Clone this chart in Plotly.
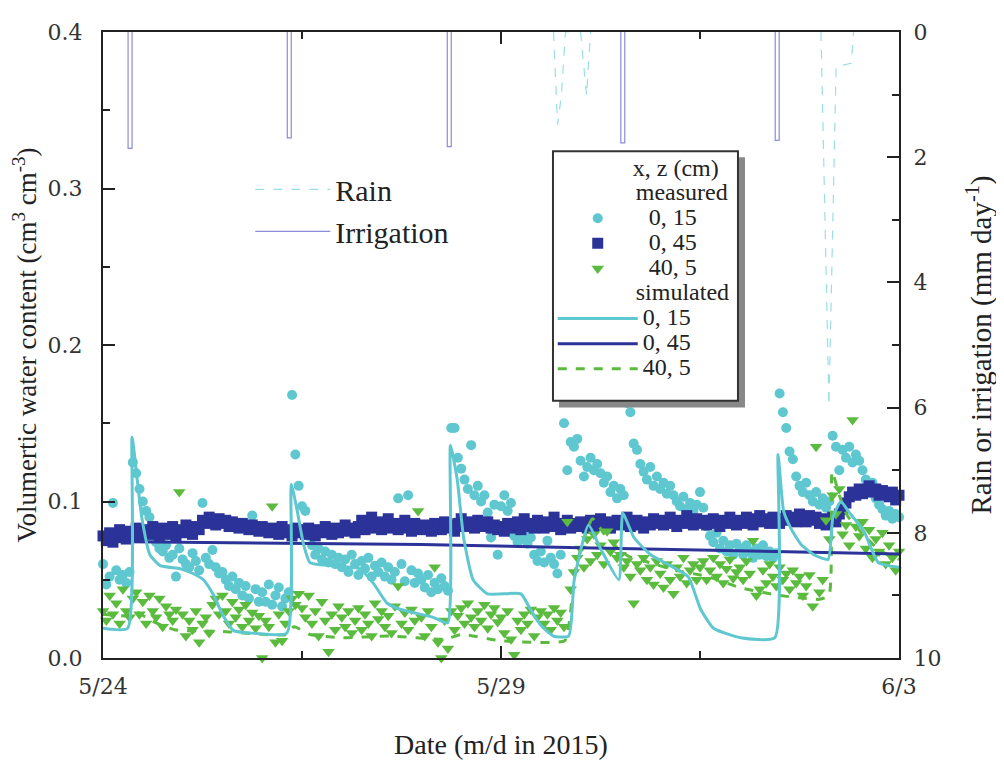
import plotly.graph_objects as go

# ---------------- data ----------------
# measurement times: hourly, in days since 5/24 00:00
meas_days = [h / 24 for h in range(241)]

meas_0_15 = [
    0.060, 0.047, 0.052, 0.099, 0.056, 0.050, 0.053, 0.048, 0.055, 0.125, 0.118, 0.108,
    0.100, 0.094, 0.090, 0.077, 0.074, 0.070, 0.068, 0.072, 0.064, 0.066, 0.052, 0.070,
    0.063, 0.060, 0.058, 0.067, 0.062, 0.056, 0.099, 0.064, 0.060, 0.069, 0.058, 0.054,
    0.055, 0.050, 0.046, 0.052, 0.044, 0.048, 0.040, 0.046, 0.038, 0.091, 0.044, 0.036,
    0.042, 0.036, 0.047, 0.034, 0.040, 0.045, 0.033, 0.038, 0.042, 0.168, 0.130, 0.110,
    0.097, 0.094, 0.078, 0.072, 0.066, 0.070, 0.063, 0.068, 0.061, 0.066, 0.060, 0.064,
    0.058, 0.063, 0.055, 0.066, 0.060, 0.053, 0.062, 0.057, 0.064, 0.052, 0.059, 0.055,
    0.061, 0.052, 0.058, 0.050, 0.055, 0.102, 0.060, 0.049, 0.104, 0.056, 0.048, 0.054,
    0.050, 0.045, 0.053, 0.042, 0.048, 0.044, 0.051, 0.046, 0.043, 0.147, 0.147, 0.128,
    0.121, 0.114, 0.108, 0.136, 0.104, 0.110, 0.100, 0.104, 0.093, 0.077, 0.098, 0.066,
    0.097, 0.104, 0.094, 0.099, 0.078, 0.074, 0.076, 0.079, 0.073, 0.077, 0.066, 0.062,
    0.068, 0.061, 0.075, 0.064, 0.060, 0.054, 0.066, 0.150, 0.120, 0.138, 0.135, 0.140,
    0.126, 0.116, 0.122, 0.128, 0.120, 0.124, 0.118, 0.112, 0.116, 0.106, 0.110, 0.102,
    0.108, 0.104, 0.163, 0.157, 0.137, 0.133, 0.124, 0.119, 0.114, 0.122, 0.110, 0.116,
    0.108, 0.112, 0.105, 0.110, 0.104, 0.100, 0.097, 0.103, 0.095, 0.099, 0.094, 0.098,
    0.106, 0.096, 0.084, 0.078, 0.074, 0.080, 0.070, 0.075, 0.068, 0.072, 0.066, 0.073,
    0.070, 0.066, 0.072, 0.068, 0.064, 0.070, 0.066, 0.072, 0.065, 0.068, 0.064, 0.067,
    0.169, 0.157, 0.147, 0.132, 0.127, 0.116, 0.110, 0.106, 0.112, 0.104, 0.100, 0.106,
    0.098, 0.102, 0.096, 0.100, 0.142, 0.135, 0.120, 0.133, 0.128, 0.135, 0.125, 0.130,
    0.126, 0.120, 0.114, 0.108, 0.112, 0.102, 0.098, 0.095, 0.091, 0.094, 0.089, 0.092, 0.090]

meas_0_45 = [
    0.078, 0.075, 0.080, 0.074, 0.077, 0.082, 0.079, 0.076, 0.081, 0.078, 0.083, 0.080,
    0.077, 0.082, 0.079, 0.084, 0.080, 0.078, 0.083, 0.081, 0.079, 0.084, 0.077, 0.082,
    0.080, 0.085, 0.081, 0.079, 0.084, 0.082, 0.088, 0.086, 0.090, 0.087, 0.085, 0.089,
    0.086, 0.088, 0.084, 0.087, 0.085, 0.083, 0.086, 0.084, 0.082, 0.085, 0.083, 0.081,
    0.084, 0.082, 0.080, 0.083, 0.081, 0.079, 0.084, 0.080, 0.082, 0.078, 0.083, 0.080,
    0.082, 0.079, 0.083, 0.081, 0.078, 0.082, 0.080, 0.084, 0.081, 0.079, 0.083, 0.080,
    0.082, 0.085, 0.081, 0.083, 0.080, 0.084, 0.088, 0.082, 0.086, 0.090, 0.083, 0.087,
    0.082, 0.085, 0.089, 0.083, 0.086, 0.082, 0.085, 0.088, 0.083, 0.081, 0.086, 0.084,
    0.082, 0.085, 0.083, 0.081, 0.086, 0.084, 0.082, 0.087, 0.085, 0.083, 0.081, 0.086,
    0.089, 0.084, 0.087, 0.085, 0.083, 0.088, 0.086, 0.084, 0.087, 0.083, 0.085, 0.082,
    0.084, 0.081, 0.086, 0.083, 0.085, 0.087, 0.082, 0.089, 0.084, 0.086, 0.083, 0.088,
    0.085, 0.083, 0.087, 0.084, 0.090, 0.086, 0.082, 0.085, 0.088, 0.083, 0.086, 0.084,
    0.087, 0.085, 0.083, 0.088, 0.084, 0.086, 0.089, 0.085, 0.087, 0.083, 0.086, 0.088,
    0.085, 0.087, 0.090, 0.084, 0.086, 0.088, 0.085, 0.083, 0.087, 0.085, 0.089, 0.086,
    0.088, 0.085, 0.087, 0.090, 0.086, 0.084, 0.088, 0.086, 0.091, 0.087, 0.085, 0.089,
    0.086, 0.088, 0.085, 0.087, 0.089, 0.086, 0.084, 0.088, 0.086, 0.090, 0.087, 0.085,
    0.088, 0.086, 0.090, 0.087, 0.085, 0.089, 0.091, 0.087, 0.089, 0.086, 0.090, 0.088,
    0.086, 0.089, 0.091, 0.088, 0.090, 0.087, 0.092, 0.089, 0.087, 0.091, 0.088, 0.090,
    0.086, 0.089, 0.085, 0.088, 0.090, 0.087, 0.092, 0.095, 0.099, 0.103, 0.106, 0.104,
    0.108, 0.105, 0.107, 0.110, 0.106, 0.108, 0.104, 0.107, 0.105, 0.103, 0.106, 0.101, 0.104]

meas_40_5 = [
    0.030, 0.024, 0.040, 0.028, 0.035, 0.022, 0.044, 0.030, 0.026, 0.038, 0.042, 0.028,
    0.036, 0.022, 0.040, 0.030, 0.026, 0.038, 0.020, 0.033, 0.028, 0.024, 0.031, 0.106,
    0.028, 0.014, 0.024, 0.018, 0.030, 0.010, 0.022, 0.026, 0.016, 0.034, 0.038, 0.028,
    0.040, 0.030, 0.022, 0.036, 0.026, 0.031, 0.020, 0.034, 0.024, 0.029, 0.019, 0.027,
    0.000, 0.024, 0.020, 0.097, 0.010, 0.028, 0.011, 0.022, 0.030, 0.038, 0.034, 0.041,
    0.032, 0.026, 0.040, 0.022, 0.030, 0.014, 0.036, 0.024, 0.004, 0.028, 0.018, 0.033,
    0.026, 0.020, 0.030, 0.016, 0.024, 0.032, 0.018, 0.028, 0.022, 0.014, 0.035, 0.025,
    0.030, 0.020, 0.027, 0.016, 0.033, 0.046, 0.022, 0.029, 0.018, 0.031, 0.024, 0.094,
    0.026, 0.014, 0.030, 0.020, 0.058, 0.010, 0.000, 0.024, 0.006, 0.030, 0.018, 0.027,
    0.032, 0.022, 0.035, 0.026, 0.020, 0.030, 0.024, 0.034, 0.019, 0.028, 0.032, 0.023,
    0.026, 0.016, 0.030, 0.012, 0.002, 0.024, 0.018, 0.028, 0.022, 0.031, 0.014, 0.026,
    0.030, 0.022, 0.028, 0.018, 0.032, 0.024, 0.029, 0.020, 0.087, 0.044, 0.055, 0.064,
    0.070, 0.058, 0.076, 0.062, 0.079, 0.066, 0.072, 0.060, 0.081, 0.068, 0.074, 0.064,
    0.066, 0.058, 0.062, 0.052, 0.035, 0.060, 0.056, 0.064, 0.050, 0.058, 0.047, 0.062,
    0.054, 0.045, 0.060, 0.050, 0.041, 0.058, 0.052, 0.064, 0.048, 0.056, 0.060, 0.050,
    0.058, 0.062, 0.050, 0.056, 0.064, 0.052, 0.060, 0.048, 0.057, 0.063, 0.051, 0.055,
    0.058, 0.050, 0.062, 0.054, 0.075, 0.040, 0.044, 0.056, 0.048, 0.060, 0.052, 0.046,
    0.058, 0.050, 0.054, 0.044, 0.056, 0.048, 0.052, 0.040, 0.046, 0.053, 0.033, 0.135,
    0.042, 0.050, 0.088, 0.076, 0.104, 0.092, 0.108, 0.079, 0.085, 0.072, 0.152, 0.084,
    0.078, 0.087, 0.070, 0.082, 0.064, 0.076, 0.068, 0.080, 0.060, 0.072, 0.064, 0.056, 0.068]

# simulated 0,15
sim_0_15_days = [0.00, 0.31, 0.365, 0.43, 0.49, 0.59, 0.72, 0.97, 1.13, 1.26, 1.38, 1.51, 1.64, 1.85,
                 2.31, 2.365, 2.44, 2.52, 2.60, 2.89, 3.23, 3.40, 3.57, 3.74, 4.15, 4.33, 4.365,
                 4.45, 4.53, 4.65, 4.83, 5.25, 5.37, 5.50, 5.66, 5.85, 5.92, 6.10, 6.25, 6.48, 6.53,
                 6.67, 6.88, 7.09, 7.35, 7.51, 7.67, 8.01, 8.44, 8.48, 8.55, 8.64, 8.77, 8.93, 9.11,
                 9.17, 9.27, 9.36, 9.56, 9.74, 10.0]
sim_0_15 = [0.019, 0.019, 0.141, 0.114, 0.089, 0.066, 0.059, 0.057, 0.054, 0.050, 0.041, 0.027, 0.0175,
            0.016, 0.016, 0.111, 0.094, 0.0725, 0.061, 0.059, 0.057, 0.0475, 0.035, 0.031, 0.026,
            0.0225, 0.136, 0.114, 0.077, 0.050, 0.041, 0.041, 0.031, 0.021, 0.014, 0.014, 0.050,
            0.085, 0.070, 0.050, 0.0925, 0.077, 0.066, 0.060, 0.052, 0.031, 0.019, 0.013, 0.013,
            0.130, 0.094, 0.083, 0.0725, 0.066, 0.063, 0.090, 0.100, 0.094, 0.081, 0.061, 0.058]

# simulated 0,45
sim_0_45_days = [0.0, 2.0, 4.0, 6.0, 8.0, 10.0]
sim_0_45 = [0.0745, 0.0735, 0.0725, 0.0705, 0.0685, 0.0665]

# simulated 40,5
sim_40_5_days = [0.0, 0.3, 0.4, 0.6, 0.9, 1.5, 2.3, 2.4, 2.6, 3.0, 3.6, 4.3, 4.5, 5.0, 5.8, 5.85,
                 5.95, 6.15, 6.3, 6.45, 6.6, 6.8, 7.2, 7.6, 8.0, 8.5, 9.0, 9.12, 9.16, 9.25, 9.35,
                 9.55, 9.75, 10.0]
sim_40_5 = [0.028, 0.027, 0.030, 0.024, 0.018, 0.017, 0.015, 0.020, 0.015, 0.013, 0.014, 0.012, 0.015,
            0.011, 0.011, 0.020, 0.060, 0.089, 0.079, 0.071, 0.065, 0.062, 0.056, 0.052, 0.045,
            0.040, 0.0375, 0.040, 0.119, 0.104, 0.091, 0.079, 0.069, 0.063]

# rain (mm/day), events separated by None
rain_days = [5.66, 5.71, 5.76, 5.81, 5.91, None, 6.00, 6.075, 6.125, None,
             9.02, 9.12, 9.21, 9.40, 9.43]
rain_mm = [0.0, 1.48, 1.0, 0.0, 0.0, None, 0.0, 1.02, 0.0, None,
           0.0, 5.97, 0.55, 0.50, 0.0]

# irrigation (mm/day)
irr_days = [0.34, 2.34, 4.35, 6.53, 8.47]
irr_mm = [1.86, 1.69, 1.83, 1.77, 1.73]
irr_halfwidth = 0.025

tick_vals = [0, 5, 10]
tick_text = ["5/24", "5/29", "6/3"]

# ---------------- styles ----------------
C_CYAN = "#5ec7cf"
C_BLUE = "#2b3399"
C_GREEN = "#5bbb3e"
C_RAIN = "#9adfe3"
C_IRR = "#8c8cd8"
SERIF = "Liberation Serif, Times New Roman, Times, serif"
NUMF = "DejaVu Serif, serif"
NB = "\u00a0"


def lg(txt, indent=0):
    """legend text rendered larger than the legend's row height font"""
    return '<span style="font-size:24px">' + NB * indent + txt + '</span>'


fig = go.Figure()

ix, iy = [], []
for d, v in zip(irr_days, irr_mm):
    ix += [d - irr_halfwidth, d - irr_halfwidth, d + irr_halfwidth, d + irr_halfwidth, None]
    iy += [0, v, v, 0, None]

fig.add_trace(go.Scatter(x=rain_days, y=rain_mm, yaxis="y2", mode="lines", name="Rain",
                         line=dict(color=C_RAIN, width=1.2, dash="dash"), legend="legend2"))
fig.add_trace(go.Scatter(x=ix, y=iy, yaxis="y2", mode="lines", name="Irrigation",
                         line=dict(color=C_IRR, width=1.2), legend="legend2"))

# measured
fig.add_trace(go.Scatter(x=meas_days, y=meas_0_15, mode="markers", name=lg("0, 15", 1),
                         marker=dict(symbol="circle", size=10, color=C_CYAN),
                         legendgroup="m", legendgrouptitle=dict(text=lg("measured", 13)),
                         cliponaxis=False, legendrank=1))
fig.add_trace(go.Scatter(x=meas_days, y=meas_0_45, mode="markers", name=lg("0, 45", 1),
                         marker=dict(symbol="square", size=11, color=C_BLUE),
                         legendgroup="m", cliponaxis=False, legendrank=2))
fig.add_trace(go.Scatter(x=meas_days, y=meas_40_5, mode="markers", name=lg("40, 5", 1),
                         marker=dict(symbol="triangle-down", size=11, color=C_GREEN),
                         legendgroup="m", cliponaxis=False, legendrank=3))
# simulated
fig.add_trace(go.Scatter(x=sim_40_5_days, y=sim_40_5, mode="lines", name=lg("40, 5"),
                         line=dict(color=C_GREEN, width=3, dash="dash", shape="spline", smoothing=0.5),
                         legendgroup="s", legendrank=6))
fig.add_trace(go.Scatter(x=sim_0_45_days, y=sim_0_45, mode="lines", name=lg("0, 45"),
                         line=dict(color=C_BLUE, width=3),
                         legendgroup="s", legendrank=5))
fig.add_trace(go.Scatter(x=sim_0_15_days, y=sim_0_15, mode="lines", name=lg("0, 15"),
                         line=dict(color=C_CYAN, width=3, shape="spline", smoothing=0.5),
                         legendgroup="s", legendrank=4,
                         legendgrouptitle=dict(text=lg("simulated", 13))))

axis_common = dict(showline=True, linecolor="#222", linewidth=2, ticks="inside",
                   tickcolor="#222", tickwidth=2, showgrid=False, zeroline=False)
minor_common = dict(ticks="inside", tickcolor="#222", tickwidth=2, ticklen=7)

fig.update_layout(
    width=996, height=759,
    margin=dict(l=95, r=105, t=15, b=104),
    paper_bgcolor="white", plot_bgcolor="white",
    xaxis=dict(range=[0, 10], tickvals=tick_vals, ticktext=tick_text, ticklen=12,
               mirror="ticks", minor=dict(dtick=2.5, tick0=0, **minor_common),
               tickfont=dict(family=NUMF, size=22, color="#333"), ticklabelstandoff=8,
               title=dict(text="Date (m/d in 2015)", font=dict(family=SERIF, size=28, color="#222"),
                          standoff=36),
               **axis_common),
    yaxis=dict(range=[0, 0.4], dtick=0.1, tickformat=".1f", ticklen=12,
               minor=dict(dtick=0.05, **minor_common),
               tickfont=dict(family=NUMF, size=22, color="#333"), ticklabelstandoff=14,
               title=dict(text="Volumertic water content (cm<sup>3</sup> cm<sup>-3</sup>)",
                          font=dict(family=SERIF, size=27, color="#222"), standoff=8),
               **axis_common),
    yaxis2=dict(overlaying="y", side="right", range=[10, 0], dtick=2, ticklen=12,
                minor=dict(dtick=1, **minor_common),
                tickfont=dict(family=NUMF, size=22, color="#333"), ticklabelstandoff=8,
                title=dict(text="Rain or irrigation (mm day<sup>-1</sup>)",
                           font=dict(family=SERIF, size=29, color="#222"), standoff=30),
                **axis_common),
    legend=dict(x=0.565, y=0.806, xanchor="left", yanchor="top",
                bgcolor="rgba(0,0,0,0)", borderwidth=0,
                font=dict(family=SERIF, size=17, color="#222"),
                title=dict(text=lg("x, z (cm)", 13), font=dict(family=SERIF, size=17, color="#222")),
                tracegroupgap=0, itemwidth=80,
                grouptitlefont=dict(family=SERIF, size=17, color="#222")),
    legend2=dict(x=0.185, y=0.79, xanchor="left", yanchor="top",
                 bgcolor="rgba(0,0,0,0)", borderwidth=0, itemwidth=75,
                 font=dict(family=SERIF, size=30, color="#222"), tracegroupgap=2),
    showlegend=True,
)

# legend frame with drop shadow
fig.add_shape(type="rect", xref="paper", yref="paper", x0=0.5729, x1=0.8065, y0=0.400, y1=0.800,
              fillcolor="#888", line=dict(width=0), layer="above")
fig.add_shape(type="rect", xref="paper", yref="paper", x0=0.5653, x1=0.7977, y0=0.411, y1=0.8094,
              fillcolor="white", line=dict(color="#333", width=2), layer="above")

fig.write_html("out.html")
